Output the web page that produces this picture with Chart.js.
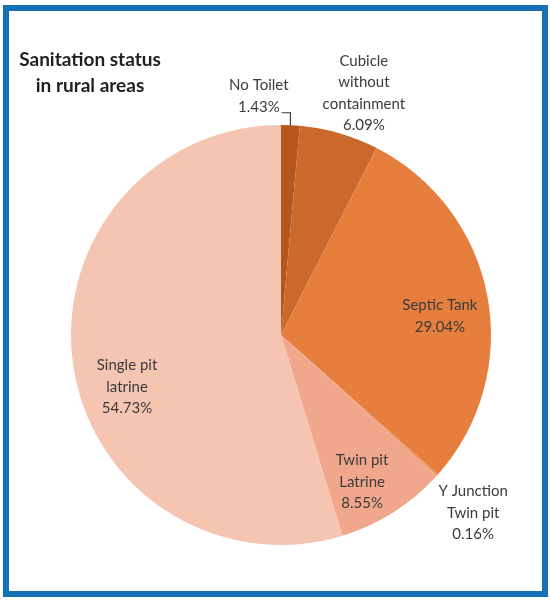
<!DOCTYPE html>
<html>
<head>
<meta charset="utf-8">
<script src="https://cdn.jsdelivr.net/npm/chart.js@4.4.1/dist/chart.umd.min.js"></script>
<style>
  body { margin: 0; background: #fff; }
  #wrap { position: relative; width: 550px; height: 600px; }
  #frame {
    position: absolute; left: 3px; top: 5px; width: 545px; height: 592px;
    box-sizing: border-box; border: 6px solid #1572b6; pointer-events: none;
  }
  canvas { position: absolute; left: 0; top: 0; }
</style>
</head>
<body>
<div id="wrap">
  <canvas id="sanitation-pie" width="550" height="600"></canvas>
  <div id="frame"></div>
</div>
<script>
// slices go clockwise from 12 o'clock
const categories = [
    ["No Toilet"],
    ["Cubicle", "without", "containment"],
    ["Septic Tank"],
    ["Y Junction", "Twin pit"],
    ["Twin pit", "Latrine"],
    ["Single pit", "latrine"]
]
const shares = [1.43, 6.09, 29.04, 0.16, 8.55, 54.73]
const sliceColours = ['#b3571f', '#cb692c', '#e67f3d', '#ec9566', '#f0a78b', '#f5c5b1']
const titleLines = ["Sanitation status", "in rural areas"]

// where each label sits: [angle from top in degrees, distance as fraction of radius]
const labelSpots = [[-5.3, 1.143], [18.9, 1.218], [83.2, 0.762], [132.8, 1.247], [151.1, 0.799], [251.3, 0.774]]

const canvasElement = document.getElementById("sanitation-pie");

const pieLabels = {
    id: "pieLabels",
    afterDatasetsDraw(chart) {
        const ctx = chart.ctx;
        const meta = chart.getDatasetMeta(0);
        const cx = meta.data[0].x;
        const cy = meta.data[0].y;
        const R = meta.data[0].outerRadius;
        const lineH = 21.5;

        ctx.save();
        ctx.textAlign = "center";
        ctx.textBaseline = "middle";
        ctx.fillStyle = "#3b3b3b";
        ctx.font = "15px Lato";

        categories.forEach((lines, i) => {
            const txt = lines.concat([shares[i].toFixed(2) + "%"]);
            const ang = labelSpots[i][0] * Math.PI / 180;
            const x = cx + labelSpots[i][1] * R * Math.sin(ang);
            const y = cy - labelSpots[i][1] * R * Math.cos(ang);
            const top = y - (txt.length - 1) * lineH / 2;
            txt.forEach((t, j) => ctx.fillText(t, x, top + j * lineH));

            // leader line for the thin "No Toilet" wedge
            if (i === 0) {
                const arc = meta.data[0];
                const mid = (arc.startAngle + arc.endAngle) / 2;
                const px = cx + R * Math.cos(mid);
                const py = cy + R * Math.sin(mid);
                const lastY = top + (txt.length - 1) * lineH;
                const w = ctx.measureText(txt[txt.length - 1]).width;
                ctx.strokeStyle = "#3b3b3b";
                ctx.lineWidth = 1.2;
                ctx.beginPath();
                ctx.moveTo(x + w / 2 + 2, lastY + 6);
                ctx.lineTo(px, lastY + 6);
                ctx.lineTo(px, py);
                ctx.stroke();
            }
        });

        // title, two centred bold lines at the top left
        ctx.fillStyle = "#1f1f1f";
        ctx.font = "bold 19px Lato";
        ctx.fillText(titleLines[0], 90, 60);
        ctx.fillText(titleLines[1], 90, 86);
        ctx.restore();
    }
};

let config = {
    type: "pie",
    data: {
        labels: categories.map(c => c.join(" ")),
        datasets: [{
            data: shares,
            backgroundColor: sliceColours,
            borderWidth: 0,
            hoverOffset: 0
        }]
    },
    options: {
        responsive: false,
        animation: false,
        devicePixelRatio: 1,
        layout: { padding: { left: 71, right: 59, top: 125, bottom: 55 } },
        plugins: {
            legend: { display: false },
            tooltip: { enabled: false }
        }
    },
    plugins: [pieLabels]
};

let sanitationChart = new Chart(canvasElement, config);
</script>
</body>
</html>
